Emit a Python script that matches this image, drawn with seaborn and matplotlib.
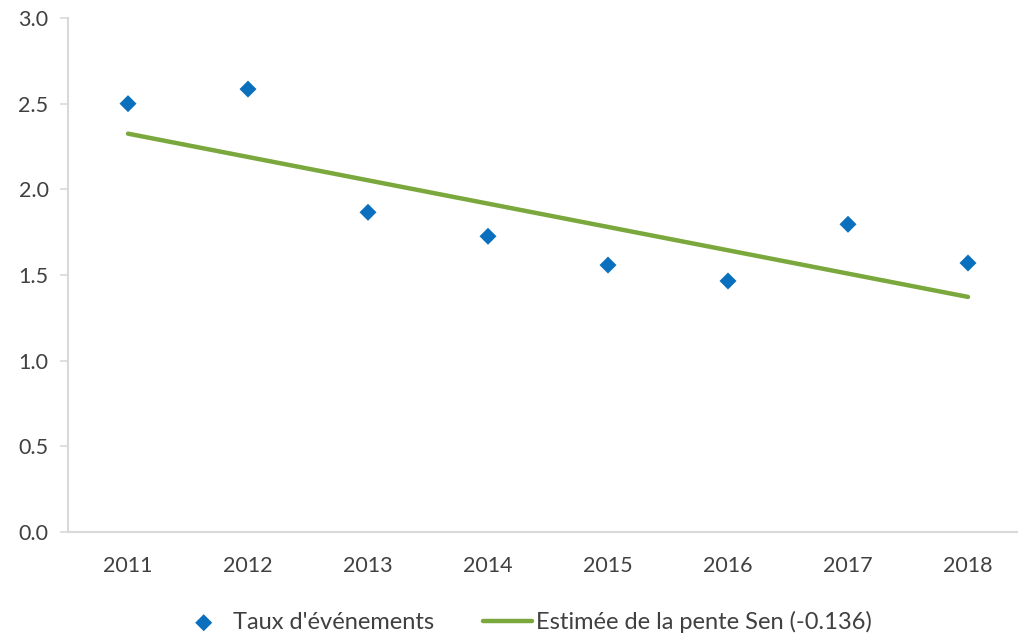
import matplotlib
matplotlib.use("Agg")
import matplotlib.pyplot as plt
import seaborn as sns
import pandas as pd

years = [2011, 2012, 2013, 2014, 2015, 2016, 2017, 2018]
taux = [2.50, 2.585, 1.866, 1.726, 1.558, 1.465, 1.796, 1.57]

# Sen slope line, read at its two ends
sen_years = [2011, 2018]
sen_vals = [2.325, 1.372]

pts = pd.DataFrame({"year": years, "taux": taux})
sen = pd.DataFrame({"year": sen_years, "val": sen_vals})

sns.set_style("white")
plt.rcParams["font.family"] = ["Lato", "DejaVu Sans"]

fig = plt.figure(figsize=(10.18, 6.35), dpi=100)
ax = fig.add_axes([68 / 1018, 1 - 532 / 635, 960 / 1018, 514 / 635])

sns.lineplot(data=sen, x="year", y="val", ax=ax, color="#7aa83c", linewidth=3.2,
             label="Estimée de la pente Sen (-0.136)", zorder=2)
sns.scatterplot(data=pts, x="year", y="taux", ax=ax, marker="D", s=75,
                color="#0a70bd", edgecolor="none", label="Taux d'événements", zorder=3)

ax.set_xlim(2010.5, 2018.5)
ax.set_ylim(0, 3.0)
ax.set_xticks(years)
ax.set_xticklabels([str(y) for y in years])
ax.set_yticks([0, 0.5, 1.0, 1.5, 2.0, 2.5, 3.0])
ax.set_yticklabels([f"{v:.1f}" for v in [0, 0.5, 1.0, 1.5, 2.0, 2.5, 3.0]])
ax.set_xlabel("")
ax.set_ylabel("")

for side in ["top", "right"]:
    ax.spines[side].set_visible(False)
for side in ["left", "bottom"]:
    ax.spines[side].set_color("#d9d9d9")
    ax.spines[side].set_linewidth(1.5)

ax.tick_params(axis="y", which="both", left=True, length=6, width=1.2, color="#d9d9d9",
               labelsize=15.5, labelcolor="#404040", pad=8)
ax.tick_params(axis="x", bottom=False, labelsize=15.5, labelcolor="#404040", pad=14)

handles, labels = ax.get_legend_handles_labels()
order = [1, 0]
ax.legend([handles[i] for i in order], [labels[i] for i in order],
          loc="upper center", bbox_to_anchor=(0.477, -0.112), ncol=2,
          frameon=False, fontsize=17, labelcolor="#404040",
          handlelength=2.05, handletextpad=0.2, columnspacing=2.1)

fig.savefig("out.png", dpi=100)
